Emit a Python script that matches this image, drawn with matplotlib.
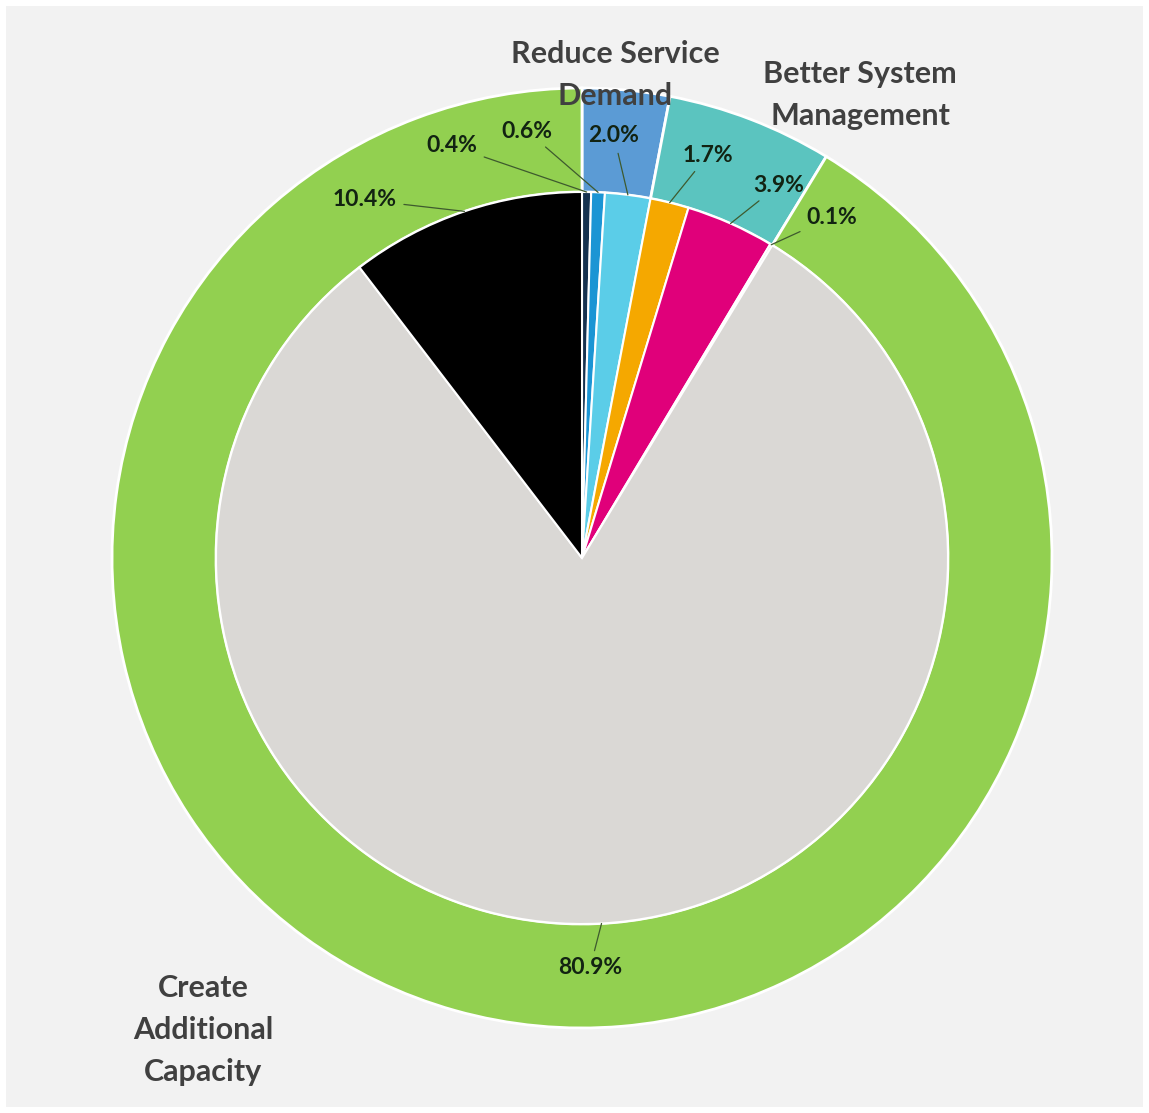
import matplotlib.pyplot as plt
import numpy as np

# inner pie (clockwise from 12 o'clock)
inner_labels = ['0.4%', '0.6%', '2.0%', '1.7%', '3.9%', '0.1%', '80.9%', '10.4%']
inner_values = [0.4, 0.6, 2.0, 1.7, 3.9, 0.1, 80.9, 10.4]
inner_colors = ['#16324F', '#1B95D4', '#5BCDE8', '#F5A800', '#E0007A',
                '#B0B0B0', '#DAD8D5', '#000000']

# outer ring groups
groups = ['Reduce Service\nDemand', 'Better System\nManagement', 'Create\nAdditional\nCapacity']
group_values = [3.0, 5.7, 91.3]
group_colors = ['#5B9BD5', '#5BC4BF', '#92D050']

# label positions in pixels (x, y from top)
label_pos = [(452, 146), (527, 131), (614, 136), (708, 155), (779, 185),
             (832, 217), (590, 968), (365, 200)]
group_pos = [(615, 75), (860, 95), (203, 1030)]

W, H = 1149, 1113
cx, cy = 582, H - 558
r_out, r_in = 470, 366

fig = plt.figure(figsize=(W / 100, H / 100), dpi=100)
fig.patch.set_facecolor('white')
ax = fig.add_axes([0, 0, 1, 1])
ax.add_patch(plt.Rectangle((6, 6), W - 12, H - 12, facecolor='#F2F2F2', edgecolor='none'))

ax.pie(group_values, colors=group_colors, radius=r_out, center=(cx, cy),
       startangle=90, counterclock=False, frame=True,
       wedgeprops=dict(width=r_out - r_in, edgecolor='white', linewidth=2))
wedges, _ = ax.pie(inner_values, colors=inner_colors, radius=r_in, center=(cx, cy),
                   startangle=90, counterclock=False, frame=True,
                   wedgeprops=dict(edgecolor='white', linewidth=1.5))
ax.set_xlim(0, W)
ax.set_ylim(0, H)
ax.set_aspect('equal')
ax.axis('off')

for w, lab, (tx, ty) in zip(wedges, inner_labels, label_pos):
    mid = np.deg2rad((w.theta1 + w.theta2) / 2)
    px, py = cx + r_in * np.cos(mid), cy + r_in * np.sin(mid)
    ax.annotate(lab, xy=(px, py), xytext=(tx, H - ty),
                ha='center', va='center', fontsize=16.5, fontweight='bold',
                family='Lato', color='#122312',
                arrowprops=dict(arrowstyle='-', color='#3E5A2E', lw=0.9,
                                shrinkA=3, shrinkB=0))

for g, (tx, ty) in zip(groups, group_pos):
    ax.text(tx, H - ty, g, ha='center', va='center', fontsize=22,
            fontweight='bold', family='Lato', color='#404040', linespacing=1.6)

fig.savefig('out.png', dpi=100, facecolor=fig.get_facecolor())
